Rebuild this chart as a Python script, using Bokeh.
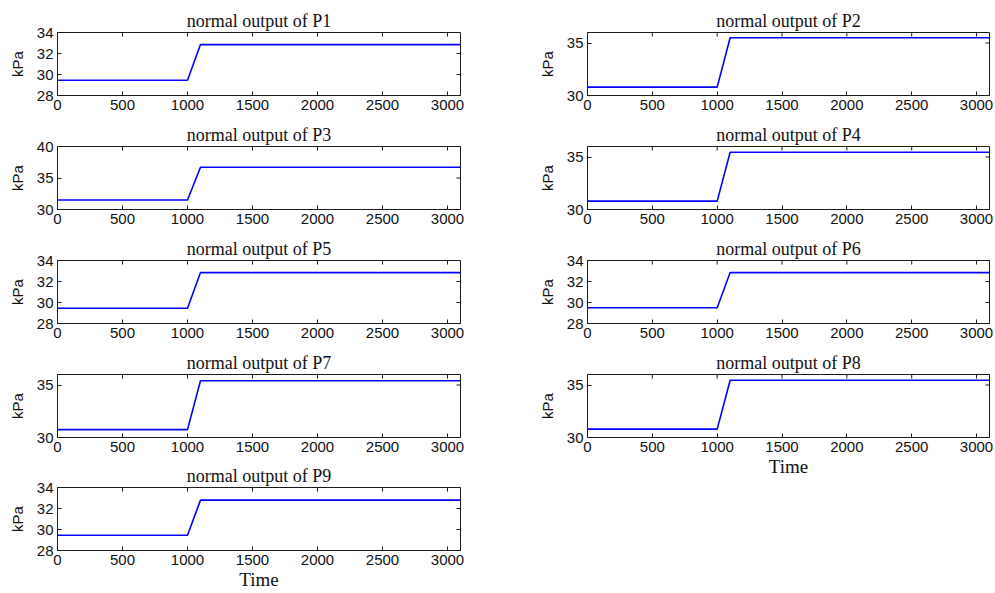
import math
from bokeh.plotting import figure
from bokeh.models import FixedTicker
from bokeh.layouts import row, column
from bokeh.embed import file_html
from bokeh.resources import INLINE

# ---- data ----
time = [0, 1000, 1100, 3100]
p1 = [29.45, 29.45, 32.85, 32.85]
p2 = [30.8, 30.8, 35.5, 35.5]
p3 = [31.5, 31.5, 36.7, 36.7]
p4 = [30.8, 30.8, 35.45, 35.45]
p5 = [29.45, 29.45, 32.85, 32.85]
p6 = [29.5, 29.5, 32.85, 32.85]
p7 = [30.75, 30.75, 35.4, 35.4]
p8 = [30.8, 30.8, 35.45, 35.45]
p9 = [29.45, 29.45, 32.8, 32.8]
titles = ["normal output of P%d" % i for i in range(1, 10)]
x_ticks = [0, 500, 1000, 1500, 2000, 2500, 3000]
x_max = 3100
yr_a = (28, 34); yt_a = [28, 30, 32, 34]
yr_b = (30, 36); yt_b = [30, 35]
yr_c = (30, 40); yt_c = [30, 35, 40]

AX = "#1a1a1a"
TXT = "#111111"
SERIF = "Liberation Serif"
SANS = "Liberation Sans"


def make(title, vals, yr, yt, w, h, left, right, top, bottom, xlabel=None):
    p = figure(width=w, height=h, x_range=(0, x_max), y_range=yr,
               output_backend="svg", toolbar_location=None,
               min_border_left=left, min_border_right=right,
               min_border_top=top, min_border_bottom=bottom,
               background_fill_color="white", border_fill_color="white")
    p.title.text = title
    p.title.align = "center"
    p.title.text_font = SERIF
    p.title.text_font_style = "normal"
    p.title.text_font_size = "18px"
    p.title.text_color = TXT
    p.title.standoff = 4
    p.line(time, vals, line_color="#0000ff", line_width=1.6)
    p.xgrid.visible = False
    p.ygrid.visible = False
    p.outline_line_color = AX
    p.outline_line_alpha = 1.0

    p.xaxis.ticker = FixedTicker(ticks=x_ticks)
    p.yaxis.ticker = FixedTicker(ticks=yt)
    for ax in (p.xaxis[0], p.yaxis[0]):
        ax.axis_line_color = AX
        ax.major_tick_line_color = AX
        ax.major_tick_in = 4
        ax.major_tick_out = 0
        ax.minor_tick_line_color = None
        ax.major_label_text_font = SANS
        ax.major_label_text_font_size = "15px"
        ax.major_label_text_color = TXT
    p.xaxis.major_label_standoff = 4
    p.yaxis.major_label_standoff = 4
    p.yaxis.axis_label = "kPa"
    p.yaxis.axis_label_text_font = SANS
    p.yaxis.axis_label_text_font_size = "15px"
    p.yaxis.axis_label_text_font_style = "normal"
    p.yaxis.axis_label_text_color = TXT
    p.yaxis.axis_label_standoff = 8
    if xlabel:
        p.xaxis.axis_label = xlabel
        p.xaxis.axis_label_text_font = SERIF
        p.xaxis.axis_label_text_font_size = "19px"
        p.xaxis.axis_label_text_font_style = "normal"
        p.xaxis.axis_label_text_color = TXT
        p.xaxis.axis_label_standoff = 1

    # inward tick marks on the top and right edges of the box (clipped to frame)
    p.scatter(x=x_ticks, y=[yr[1]] * len(x_ticks), marker="dash",
              angle=math.pi / 2, size=8, line_color=AX, line_width=1)
    p.scatter(x=[x_max] * len(yt), y=yt, marker="dash",
              size=8, line_color=AX, line_width=1)
    return p


LW, RW = 500, 495
L = dict(w=LW, left=57, right=40)
R = dict(w=RW, left=87, right=6)

left_col = column(
    make(titles[0], p1, yr_a, yt_a, h=119, top=32, bottom=24, **L),
    make(titles[2], p3, yr_c, yt_c, h=114, top=27, bottom=24, **L),
    make(titles[4], p5, yr_a, yt_a, h=114, top=27, bottom=24, **L),
    make(titles[6], p7, yr_b, yt_b, h=114, top=27, bottom=24, **L),
    make(titles[8], p9, yr_a, yt_a, h=132, top=25, bottom=43, xlabel="Time", **L),
    spacing=0)
right_col = column(
    make(titles[1], p2, yr_b, yt_b, h=119, top=32, bottom=24, **R),
    make(titles[3], p4, yr_b, yt_b, h=114, top=27, bottom=24, **R),
    make(titles[5], p6, yr_a, yt_a, h=114, top=27, bottom=24, **R),
    make(titles[7], p8, yr_b, yt_b, h=134, top=27, bottom=44, xlabel="Time", **R),
    spacing=0)

layout = row(left_col, right_col, spacing=0)
open("out.html", "w").write(file_html(layout, INLINE))
